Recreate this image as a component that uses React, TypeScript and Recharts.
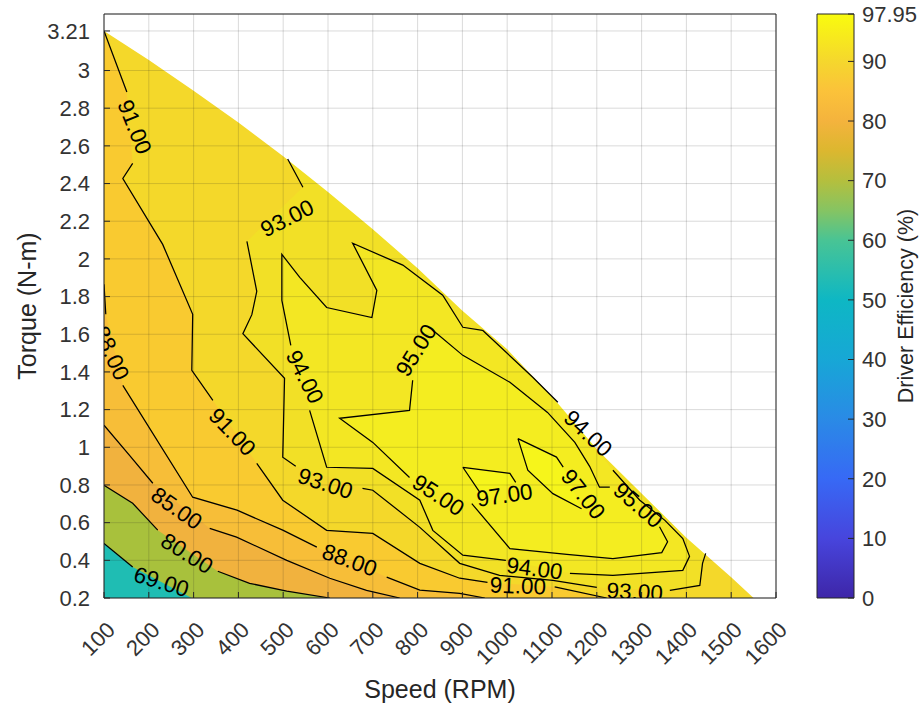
import React from 'react';
import {
  ComposedChart,
  Area,
  Line,
  Scatter,
  XAxis,
  YAxis,
  CartesianGrid,
  ReferenceArea,
} from 'recharts';

type P = [number, number] | null;

const FONT = '"Liberation Sans", Arial, Helvetica, sans-serif';
const INK = '#262626';

const speedTicks = [100, 200, 300, 400, 500, 600, 700, 800, 900, 1000, 1100, 1200, 1300, 1400, 1500, 1600];
const torqueTicks = [0.2, 0.4, 0.6, 0.8, 1, 1.2, 1.4, 1.6, 1.8, 2, 2.2, 2.4, 2.6, 2.8, 3, 3.21];
const effTicks = [0, 10, 20, 30, 40, 50, 60, 70, 80, 90, 97.95];

// maximum torque available at each speed
const envelope: [number, number][] = [
  [100, 3.21], [200, 3.056], [300, 2.893], [400, 2.724], [500, 2.545], [600, 2.355], [700, 2.158],
  [800, 1.95], [900, 1.725], [1000, 1.52], [1100, 1.27], [1200, 0.99], [1300, 0.755],
  [1400, 0.52], [1500, 0.31], [1550, 0.2],
];

// iso-efficiency contours (speed, torque); null = break in the line under a label
const c69: P[] = [[100, 0.49], [164, 0.364], null, [296, 0.2]];
const c80: P[] = [[100, 0.798], [164, 0.703], [220, 0.56], null, [354, 0.342], [425, 0.278], [508, 0.236], [604, 0.2]];
const c85: P[] = [[100, 1.117], [157, 0.957], [209, 0.809], null, [336, 0.57], [396, 0.523], [508, 0.4], [604, 0.305], [686, 0.241], [760, 0.2]];
const c88: P[] = [[100, 1.865], [104, 1.706], null, [142, 1.329], [298, 0.735], [397, 0.666], [499, 0.56], [575, 0.47], null, [731, 0.311], [805, 0.242], [894, 0.225], [950, 0.2]];
const c91: P[] = [
  [100, 3.21], [151, 2.886], null, [164, 2.507], [142, 2.427], [231, 2.077], [298, 1.706], [296, 1.409], [343, 1.249],
  null, [441, 0.915], [499, 0.719], [597, 0.559], [700, 0.543], [805, 0.384], [894, 0.305], [956, 0.283],
  null, [1106, 0.259], [1222, 0.2],
];
const c93: P[] = [
  [510, 2.53], [544, 2.38], null, [419, 2.093], [441, 1.828], [430, 1.704], [410, 1.603], [503, 1.366], [499, 0.947], [528, 0.899],
  null, [677, 0.782], [700, 0.772], [805, 0.575], [894, 0.384], [983, 0.32], [1102, 0.293], [1200, 0.256],
  null, [1363, 0.24], [1430, 0.267], [1436, 0.384], [1443, 0.437],
];
const c94: P[] = [
  [945, 1.621], [1057, 1.372], [1113, 1.239], null, [1236, 0.878], [1296, 0.719], [1352, 0.612], [1392, 0.516],
  [1407, 0.421], [1392, 0.347], [1236, 0.32], [1140, 0.331], null, [997, 0.4], [901, 0.427], [834, 0.559],
  [805, 0.719], [700, 0.888], [597, 0.894], [559, 1.196], null, [517, 1.541], [497, 1.78], [497, 2.024],
  [537, 1.902], [597, 1.742], [698, 1.689], [709, 1.833], [655, 2.083], [767, 1.967], [856, 1.807],
  [901, 1.637], [945, 1.621],
];
const c95: P[] = [
  [834, 1.621], [901, 1.488], [1006, 1.345], [1090, 1.185], [1151, 1.026], [1184, 0.899], [1206, 0.788], [1229, 0.788],
  null, [1340, 0.578], [1358, 0.499], [1345, 0.441], [1236, 0.409], [1133, 0.431], [1006, 0.462], [921, 0.701],
  null, [782, 0.84], [700, 1.026], [626, 1.154], [782, 1.196], [789, 1.356], null, [834, 1.621],
];
const c97a: P[] = [[901, 0.894], [1006, 0.862], [1019, 0.814], null, [939, 0.761], [901, 0.894]];
const c97b: P[] = [[1024, 1.046], [1110, 0.948], [1125, 0.895], null, [1166, 0.674], [1102, 0.754], [1046, 0.878], [1024, 1.046]];

const contours: [number, P[]][] = [
  [69, c69], [80, c80], [85, c85], [88, c88], [91, c91], [93, c93], [94, c94], [95, c95], [97, c97a], [97, c97b],
];

// inline contour labels: level, position and text angle (deg)
const contourLabels = [
  { level: 69, s: 228, t: 0.285, a: 17 },
  { level: 80, s: 285, t: 0.436, a: 32 },
  { level: 85, s: 262, t: 0.675, a: 35 },
  { level: 88, s: 116, t: 1.5, a: 66 },
  { level: 88, s: 648, t: 0.4, a: 20 },
  { level: 91, s: 168, t: 2.7, a: 68 },
  { level: 91, s: 386, t: 1.081, a: 46 },
  { level: 91, s: 1024, t: 0.264, a: 2 },
  { level: 93, s: 509, t: 2.215, a: -27 },
  { level: 93, s: 594, t: 0.807, a: 18 },
  { level: 93, s: 1285, t: 0.232, a: 3 },
  { level: 94, s: 548, t: 1.373, a: 63 },
  { level: 94, s: 1180, t: 1.073, a: 43 },
  { level: 94, s: 1061, t: 0.356, a: 7 },
  { level: 95, s: 797, t: 1.515, a: -58 },
  { level: 95, s: 846, t: 0.745, a: 33 },
  { level: 95, s: 1292, t: 0.692, a: 41 },
  { level: 97, s: 994, t: 0.745, a: -8 },
  { level: 97, s: 1169, t: 0.75, a: 52 },
];

// parula, sampled over 0 .. 97.95
const parulaStops: [number, string][] = [
  [0, '#3e26a8'], [0.102, '#4745dd'], [0.204, '#3769f5'], [0.306, '#2a8ae6'], [0.408, '#17a7d6'],
  [0.51, '#0eb7c4'], [0.612, '#48c495'], [0.663, '#85c463'], [0.714, '#b4bf3e'], [0.766, '#dcb72f'],
  [0.817, '#f4b33d'], [0.868, '#fbc23a'], [0.919, '#f5d72d'], [1, '#f9fb0e'],
];

const TOP = 3.3;
const pts = (c: P[]) => c.filter((p): p is [number, number] => p !== null);
const rev = (c: P[]) => pts(c).reverse();
const outside: [number, number][] = [[100, TOP], [1600, TOP], [1600, 0.2]];
const last93 = pts(c93)[pts(c93).length - 1];

// filled bands, painted from the lowest level up; each path starts and ends on its own base line
const fills: { key: string; color: string; rows: [number, number][] }[] = [
  { key: 'lt69', color: '#1fbdb3', rows: [[100, 0.2], [100, TOP], ...outside] },
  { key: 'ge69', color: '#a8c13c', rows: [...rev(c69), ...outside] },
  { key: 'ge80', color: '#f1b23e', rows: [...rev(c80), ...outside] },
  { key: 'ge85', color: '#f7be38', rows: [...rev(c85), ...outside] },
  { key: 'ge88', color: '#f9ca30', rows: [...rev(c88), ...outside] },
  { key: 'ge91', color: '#f4d82a', rows: [...rev(c91), ...outside] },
  { key: 'ge93', color: '#f2e026', rows: [[1600, TOP], [510, TOP], ...pts(c93), [1600, last93[1]], [1600, TOP]] },
  { key: 'ge94', color: '#f3e723', rows: pts(c94) },
  { key: 'ge95', color: '#f4ed20', rows: pts(c95) },
  { key: 'ge97a', color: '#f6f51b', rows: pts(c97a) },
  { key: 'ge97b', color: '#f6f51b', rows: pts(c97b) },
];

const toRows = (r: [number, number][]) => r.map(([s, t]) => ({ s, t }));
const lineRows = (c: P[]) => {
  let prev = 100;
  return c.map((p) => {
    if (p) {
      prev = p[0];
      return { s: p[0], t: p[1] as number | null };
    }
    return { s: prev, t: null };
  });
};
const maskRows = toRows([...envelope, [1600, 0.2]]);
const labelRows = contourLabels.map((l) => ({ ...l }));

function ContourText(props: any) {
  const { cx, cy, payload } = props;
  if (cx == null || cy == null || !payload) return null;
  return (
    <text
      x={cx}
      y={cy}
      transform={`rotate(${payload.a} ${cx} ${cy})`}
      textAnchor="middle"
      dominantBaseline="central"
      fontFamily={FONT}
      fontSize={22.5}
      fill="#000"
    >
      {payload.level.toFixed(2)}
    </text>
  );
}

function SpeedTick(props: any) {
  const { x, y, payload } = props;
  const ax = x + 7;
  return (
    <text
      x={ax}
      y={y}
      transform={`rotate(-45 ${ax} ${y})`}
      textAnchor="end"
      dominantBaseline="central"
      fontFamily={FONT}
      fontSize={22}
      fill="#333"
    >
      {payload.value}
    </text>
  );
}

const tickStyle = { fontFamily: FONT, fontSize: 22, fill: '#333' };

export default function App() {
  return (
    <div style={{ position: 'absolute', left: 0, top: 0, width: 920, height: 706, background: '#fff' }}>
      <div style={{ position: 'absolute', left: 0, top: 0 }}>
        <ComposedChart width={812} height={706} margin={{ top: 13, right: 35, bottom: 0, left: 0 }}>
          <XAxis
            dataKey="s"
            type="number"
            domain={[100, 1600]}
            ticks={speedTicks}
            interval={0}
            allowDataOverflow
            height={108}
            tickSize={-6}
            tickMargin={34}
            tick={<SpeedTick />}
            stroke={INK}
            label={{ value: 'Speed (RPM)', position: 'insideBottom', offset: 8, style: { fontFamily: FONT, fontSize: 25, fill: INK } }}
          />
          <XAxis
            xAxisId="top"
            orientation="top"
            dataKey="s"
            type="number"
            domain={[100, 1600]}
            ticks={speedTicks}
            interval={0}
            allowDataOverflow
            height={1}
            tick={false}
            tickSize={-6}
            stroke={INK}
          />
          <YAxis
            type="number"
            domain={[0.2, TOP]}
            ticks={torqueTicks}
            interval={0}
            allowDataOverflow
            width={104}
            tickSize={-6}
            tickMargin={20}
            tick={tickStyle}
            stroke={INK}
            label={{ value: 'Torque (N-m)', angle: -90, position: 'insideLeft', offset: 27, style: { textAnchor: 'middle', fontFamily: FONT, fontSize: 25, fill: INK } }}
          />
          <YAxis
            yAxisId="right"
            orientation="right"
            type="number"
            domain={[0.2, TOP]}
            ticks={torqueTicks}
            interval={0}
            allowDataOverflow
            width={1}
            tick={false}
            tickSize={-6}
            stroke={INK}
          />
          {fills.map((f) => (
            <Area
              key={f.key}
              data={toRows(f.rows)}
              dataKey="t"
              type="linear"
              baseValue={f.rows[0][1]}
              fill={f.color}
              fillOpacity={1}
              stroke="none"
              dot={false}
              activeDot={false}
              isAnimationActive={false}
            />
          ))}
          <Area
            data={maskRows}
            dataKey="t"
            type="linear"
            baseValue={TOP}
            fill="#fff"
            fillOpacity={1}
            stroke="none"
            dot={false}
            activeDot={false}
            isAnimationActive={false}
          />
          <CartesianGrid stroke={INK} strokeOpacity={0.17} zIndex={150} />
          {contours.map(([level, c], i) => (
            <Line
              key={`c${level}-${i}`}
              data={lineRows(c)}
              dataKey="t"
              type="linear"
              stroke="#000"
              strokeWidth={1.25}
              dot={false}
              activeDot={false}
              connectNulls={false}
              isAnimationActive={false}
            />
          ))}
          <Scatter data={labelRows} dataKey="t" shape={ContourText} isAnimationActive={false} />
        </ComposedChart>
      </div>
      <div style={{ position: 'absolute', left: 790, top: 0 }}>
        <ComposedChart width={130} height={706} margin={{ top: 14, right: 0, bottom: 108, left: 27 }}>
          <defs>
            <linearGradient id="parula" x1="0" y1="1" x2="0" y2="0">
              {parulaStops.map(([o, c]) => (
                <stop key={o} offset={o} stopColor={c} />
              ))}
            </linearGradient>
          </defs>
          <XAxis type="number" dataKey="x" domain={[0, 1]} allowDataOverflow hide />
          <YAxis
            type="number"
            orientation="right"
            domain={[0, 97.95]}
            ticks={effTicks}
            interval={0}
            allowDataOverflow
            width={66}
            tickSize={-6}
            tickMargin={14}
            axisLine={false}
            tick={tickStyle}
            stroke={INK}
            label={{ value: 'Driver Efficiency (%)', angle: -90, position: 'insideRight', offset: 15, style: { textAnchor: 'middle', fontFamily: FONT, fontSize: 21.5, fill: INK } }}
          />
          <ReferenceArea x1={0} x2={1} y1={0} y2={97.95} fill="url(#parula)" fillOpacity={1} stroke={INK} strokeWidth={1} />
        </ComposedChart>
      </div>
    </div>
  );
}
